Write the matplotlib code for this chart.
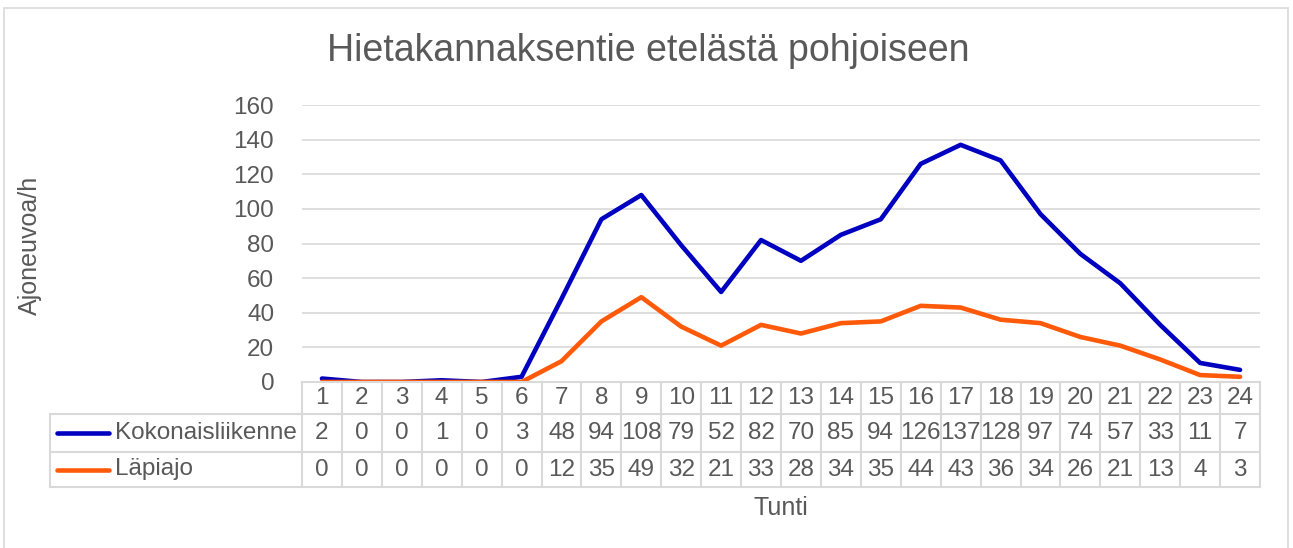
import numpy as np
import matplotlib.pyplot as plt
from matplotlib.patches import Rectangle

# data
tunnit = list(range(1, 25))
kokonais = [2, 0, 0, 1, 0, 3, 48, 94, 108, 79, 52, 82, 70, 85, 94, 126, 137, 128, 97, 74, 57, 33, 11, 7]
lapiajo = [0, 0, 0, 0, 0, 0, 12, 35, 49, 32, 21, 33, 28, 34, 35, 44, 43, 36, 34, 26, 21, 13, 4, 3]
sarjat = ['Kokonaisliikenne', 'Läpiajo']
varit = ['#0000C0', '#FF5a0a']

plt.rcParams['font.family'] = ['Liberation Sans', 'DejaVu Sans']
TXT = '#595959'
GRID = '#d9d9d9'
FS = 17.5

W, H = 1293, 548
fig = plt.figure(figsize=(W / 100, H / 100), dpi=100)

# plot area in pixels
x0, x1, y0, y1 = 302, 1260, 105, 382
ax = fig.add_axes([x0 / W, 1 - y1 / H, (x1 - x0) / W, (y1 - y0) / H])

x = np.array(tunnit)
ax.plot(x, kokonais, color=varit[0], lw=3.3, solid_capstyle='round', zorder=3)
ax.plot(x, lapiajo, color=varit[1], lw=3.3, solid_capstyle='round', zorder=3)

ax.set_xlim(0.5, 24.5)
ax.set_ylim(0, 160)
ax.set_yticks(range(0, 161, 20))
ax.tick_params(axis='y', length=0, pad=20, labelsize=FS, labelcolor=TXT)
ax.set_xticks([])
ax.grid(axis='y', color=GRID, lw=1.2)
for s in ax.spines.values():
    s.set_visible(False)

ax.set_title('Hietakannaksentie etelästä pohjoiseen', fontsize=27, color=TXT,
             x=(648 - x0) / (x1 - x0), pad=32)

# data table below the plot (figure pixel coordinates)
def fy(py):
    return 1 - py / H

def fx(px):
    return px / W

fig.text(fx(30), fy(245), 'Ajoneuvoa/h', rotation=90, ha='center', va='center',
         fontsize=18, color=TXT)

colw = (x1 - x0) / 24
rows = [382, 414, 452, 487]
lab_left = 50
lc = dict(color=GRID, lw=1.5, transform=fig.transFigure)

fig.add_artist(plt.Line2D([fx(x0), fx(x1)], [fy(rows[0])] * 2, **lc))
for r in rows[1:]:
    fig.add_artist(plt.Line2D([fx(lab_left), fx(x1)], [fy(r)] * 2, **lc))
fig.add_artist(plt.Line2D([fx(lab_left)] * 2, [fy(rows[1]), fy(rows[3])], **lc))
for k in range(25):
    xx = x0 + k * colw
    fig.add_artist(plt.Line2D([fx(xx)] * 2, [fy(rows[0]), fy(rows[3])], **lc))

for i, t in enumerate(tunnit):
    xc = fx(x0 + (i + 0.5) * colw)
    fig.text(xc, fy((rows[0] + rows[1]) / 2), str(t), ha='center', va='center',
             fontsize=FS, color=TXT)
    for j, vals in enumerate([kokonais, lapiajo]):
        fig.text(xc, fy((rows[j + 1] + rows[j + 2]) / 2), str(vals[i]), ha='center',
                 va='center', fontsize=FS, color=TXT)

for j, nimi in enumerate(sarjat):
    yc = fy((rows[j + 1] + rows[j + 2]) / 2)
    fig.add_artist(plt.Line2D([fx(57), fx(109)], [yc, yc], color=varit[j], lw=3.3,
                              solid_capstyle='round', transform=fig.transFigure))
    fig.text(fx(115), yc, nimi, ha='left', va='center', fontsize=FS, color=TXT)

fig.text(fx(781), fy(508), 'Tunti', ha='center', va='center', fontsize=18, color=TXT)

# chart border
fig.add_artist(Rectangle((fx(4), fy(560)), fx(1284), fy(8) - fy(560), fill=False,
                         edgecolor=GRID, lw=1.2, transform=fig.transFigure))

fig.savefig('out.png', dpi=100, facecolor='white')
